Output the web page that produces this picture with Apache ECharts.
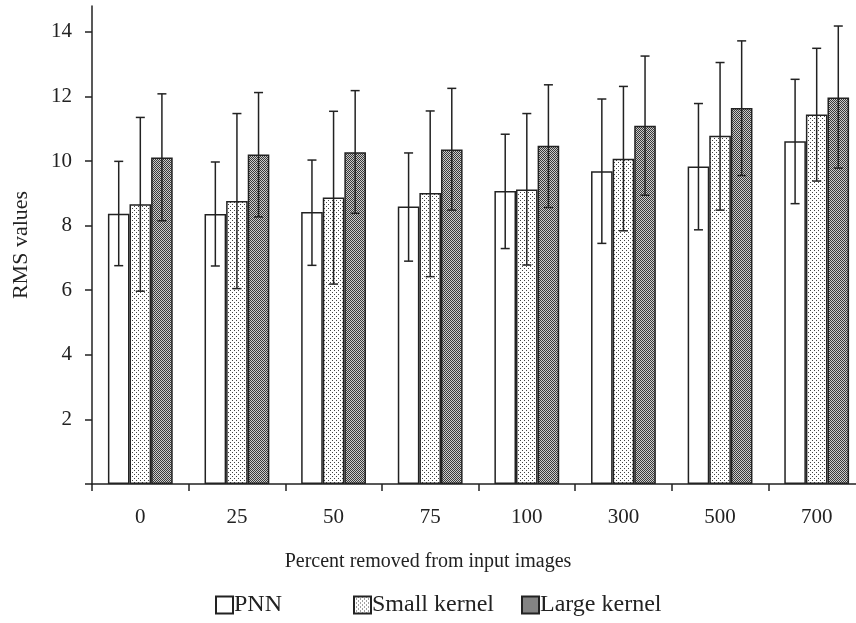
<!DOCTYPE html>
<html>
<head>
<meta charset="utf-8">
<script src="https://cdn.jsdelivr.net/npm/echarts@6/dist/echarts.min.js"></script>
<style>
html,body{margin:0;padding:0;background:#fff;overflow:hidden;width:856px;height:623px;}
#chart{width:866px;height:623px;}
</style>
</head>
<body>
<div id="chart"></div>
<script>
// ---- data ----
const categories = ['0', '25', '50', '75', '100', '300', '500', '700'];
const seriesNames = ['PNN', 'Small kernel', 'Large kernel'];

const pnn      = [8.37, 8.36, 8.42, 8.59, 9.07, 9.68, 9.83, 10.61];
const pnnLow   = [6.76, 6.75, 6.77, 6.90, 7.29, 7.45, 7.87, 8.68];
const pnnHigh  = [9.99, 9.97, 10.03, 10.25, 10.83, 11.92, 11.78, 12.53];

const small     = [8.66, 8.76, 8.87, 9.01, 9.12, 10.07, 10.78, 11.44];
const smallLow  = [5.97, 6.05, 6.19, 6.42, 6.78, 7.84, 8.48, 9.38];
const smallHigh = [11.35, 11.47, 11.54, 11.55, 11.47, 12.31, 13.05, 13.49];

const large     = [10.11, 10.20, 10.27, 10.36, 10.47, 11.09, 11.64, 11.97];
const largeLow  = [8.15, 8.27, 8.38, 8.48, 8.56, 8.94, 9.55, 9.78];
const largeHigh = [12.08, 12.12, 12.18, 12.25, 12.36, 13.25, 13.72, 14.18];

const yTickLabels = [2, 4, 6, 8, 10, 12, 14];
const yTicks = [0, 2, 4, 6, 8, 10, 12, 14];

// ---- patterns ----
function makePattern(size, draw) {
  const c = document.createElement('canvas');
  c.width = size; c.height = size;
  const ctx = c.getContext('2d');
  draw(ctx);
  return { image: c, repeat: 'repeat' };
}
const smallPattern = makePattern(4, ctx => {
  ctx.fillStyle = '#ffffff'; ctx.fillRect(0, 0, 4, 4);
  ctx.fillStyle = '#444444';
  ctx.fillRect(0, 0, 1, 1);
  ctx.fillRect(2, 2, 1, 1);
});
const largePattern = makePattern(2, ctx => {
  ctx.fillStyle = '#cccccc'; ctx.fillRect(0, 0, 2, 2);
  ctx.fillStyle = '#3a3a3a';
  ctx.fillRect(0, 0, 1, 1);
  ctx.fillRect(1, 1, 1, 1);
});

const FONT = 'Liberation Serif';
const BAR_W = 21.6;
const INK = '#222';

function barSeries(name, data, color) {
  return {
    name: name, type: 'bar', data: data,
    barWidth: BAR_W, barGap: '0%',
    itemStyle: { color: color, borderColor: INK, borderWidth: 1.5 },
    emphasis: { disabled: true },
    animation: false, z: 2
  };
}
function errSeries(offsetIdx, low, high) {
  return {
    type: 'custom', silent: true, animation: false, z: 5,
    data: low.map((l, i) => [i, l, high[i]]),
    encode: { x: 0, y: [1, 2] },
    renderItem: function (params, api) {
      const c = api.value(0);
      const top = api.coord([c, api.value(2)]);
      const bot = api.coord([c, api.value(1)]);
      const x = top[0] + offsetIdx * BAR_W;
      const hw = 4.5;
      const st = { stroke: INK, lineWidth: 1.5 };
      return {
        type: 'group',
        children: [
          { type: 'line', shape: { x1: x, y1: top[1], x2: x, y2: bot[1] }, style: st },
          { type: 'line', shape: { x1: x - hw, y1: top[1], x2: x + hw, y2: top[1] }, style: st },
          { type: 'line', shape: { x1: x - hw, y1: bot[1], x2: x + hw, y2: bot[1] }, style: st }
        ]
      };
    }
  };
}

function legendAt(left, name) {
  return {
    data: [name], left: left, top: 593, padding: 0,
    icon: 'rect', itemWidth: 17, itemHeight: 17,
    selectedMode: false,
    textStyle: { fontFamily: FONT, fontSize: 24, color: '#222', padding: [0, 0, 0, -4] }
  };
}

const chart = echarts.init(document.getElementById('chart'), null, { renderer: 'canvas' });
chart.setOption({
  backgroundColor: '#ffffff',
  animation: false,
  grid: { left: 92, top: 6, right: 1, bottom: 139, containLabel: false },
  legend: [legendAt(215, 'PNN'), legendAt(353, 'Small kernel'), legendAt(521, 'Large kernel')],
  xAxis: {
    type: 'category', data: categories,
    axisLine: { lineStyle: { color: INK, width: 1.5 } },
    axisTick: { show: true, alignWithLabel: false, length: 7, lineStyle: { color: INK, width: 1.5 } },
    axisLabel: { margin: 23, fontFamily: FONT, fontSize: 21, color: '#222' },
    splitLine: { show: false }
  },
  yAxis: {
    type: 'value', min: 0, max: 14.8, interval: 2,
    name: 'RMS values', nameLocation: 'middle', nameGap: 60,
    nameTextStyle: { fontFamily: FONT, fontSize: 22, color: '#222' },
    axisLine: { show: true, lineStyle: { color: INK, width: 1.5 } },
    axisTick: { show: true, length: 7, customValues: yTicks, lineStyle: { color: INK, width: 1.5 } },
    axisLabel: { margin: 20, fontFamily: FONT, fontSize: 21, color: '#222', customValues: yTickLabels },
    splitLine: { show: false }
  },
  graphic: [{
    type: 'text', x: 428, y: 562,
    style: { text: 'Percent removed from input images', fontFamily: FONT, fontSize: 20, fill: '#222',
             textAlign: 'center', textVerticalAlign: 'middle' }
  }],
  series: [
    barSeries(seriesNames[0], pnn, '#ffffff'),
    barSeries(seriesNames[1], small, smallPattern),
    barSeries(seriesNames[2], large, largePattern),
    errSeries(-1, pnnLow, pnnHigh),
    errSeries(0, smallLow, smallHigh),
    errSeries(1, largeLow, largeHigh)
  ]
});
</script>
</body>
</html>
